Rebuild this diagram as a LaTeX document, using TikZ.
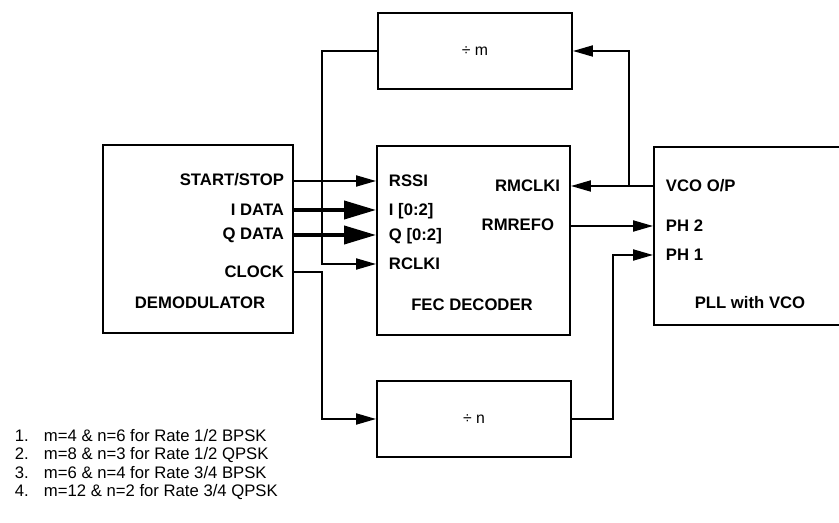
\documentclass[tikz,border=0pt]{standalone}
\usepackage{fontspec}
\setmainfont{Liberation Sans}
\usetikzlibrary{positioning, arrows.meta, calc}

\begin{document}
\begin{tikzpicture}[x=0.02cm, y=-0.02cm, line width=1.1pt,
  >={Triangle[length=0.4cm, width=0.22cm]},
  block/.style={draw, line width=1.1pt, inner sep=0},
  port/.style={font=\fontsize{9.5}{11}\selectfont\bfseries, inner sep=0, text height=6.8pt, text depth=0pt},
  title/.style={font=\fontsize{9.5}{11}\selectfont\bfseries, inner sep=0},
  bus/.style={line width=2.2pt, -{Triangle[length=0.64cm, width=0.36cm]}}]
  \useasboundingbox (0,0) rectangle (839,523);
  \clip (0,0) rectangle (839,523);
  % blocks
  \node[block, minimum width=3.8cm, minimum height=3.76cm] (demod) at (198,239) {};
  \node[block, minimum width=3.86cm, minimum height=3.78cm] (fec) at (473.5,240.5) {};
  \node[block, minimum width=4.12cm, minimum height=3.56cm] (pll) at (757,236) {};
  \node[block, minimum width=3.88cm, minimum height=1.52cm, font=\fontsize{9}{11}\selectfont] (divm) at (475,51) {÷ m};
  \node[block, minimum width=3.88cm, minimum height=1.52cm, font=\fontsize{9}{11}\selectfont] (divn) at (474,419) {÷ n};
  \node[title] (tdemod) at (200,303) {DEMODULATOR};
  \node[title] (tfec) at (472,305) {FEC DECODER};
  \node[title] (tpll) at (750,303) {PLL with VCO};
  % ports
  \node[port, anchor=east] (ss) at (285,180) {START/STOP};
  \node[port, anchor=east] (id) at (285,210) {I DATA};
  \node[port, anchor=east] (qd) at (285,234) {Q DATA};
  \node[port, anchor=east] (clk) at (285,272) {CLOCK};
  \node[port, anchor=west] (rssi) at (388,181) {RSSI};
  \node[port, anchor=west] (ibus) at (388,210) {I [0:2]};
  \node[port, anchor=west] (qbus) at (388,235) {Q [0:2]};
  \node[port, anchor=west] (rclk) at (388,264) {RCLKI};
  \node[port, anchor=east] (rmclk) at (561,186) {RMCLKI};
  \node[port, anchor=east] (rmref) at (555,225) {RMREFO};
  \node[port, anchor=west] (vco) at (665,186) {VCO O/P};
  \node[port, anchor=west] (ph2) at (665,226) {PH 2};
  \node[port, anchor=west] (ph1) at (665,255) {PH 1};
  % wiring
  \coordinate (split) at (322,0);
  \coordinate (tap) at (629,0);
  \coordinate (back) at (613,0);
  \draw[->] (demod.east |- rssi) -- (fec.west |- rssi);
  \draw[bus] (demod.east |- ibus) -- (fec.west |- ibus);
  \draw[bus] (demod.east |- qbus) -- (fec.west |- qbus);
  \draw[->] (divm.west) -| (split |- rclk) -- (fec.west |- rclk);
  \draw[->] (demod.east |- clk) -| (split |- divn.west) -- (divn.west);
  \draw[->] (pll.west |- vco) -- (fec.east |- vco);
  \draw[->] (tap |- vco) |- (divm.east);
  \draw[->] (fec.east |- ph2) -- (pll.west |- ph2);
  \draw[->] (divn.east) -| (back |- ph1) -- (pll.west |- ph1);
  % notes
  \foreach \i/\y/\txt in {1/436/{m=4 \& n=6 for Rate 1/2 BPSK}, 2/455/{m=8 \& n=3 for Rate 1/2 QPSK},
                          3/473/{m=6 \& n=4 for Rate 3/4 BPSK}, 4/492/{m=12 \& n=2 for Rate 3/4 QPSK}}{
    \node[anchor=west, inner sep=0, font=\fontsize{9.5}{11}\selectfont] (note\i) at (14,\y) {\makebox[16.5pt][l]{\i.}\txt};
  }
\end{tikzpicture}
\end{document}
